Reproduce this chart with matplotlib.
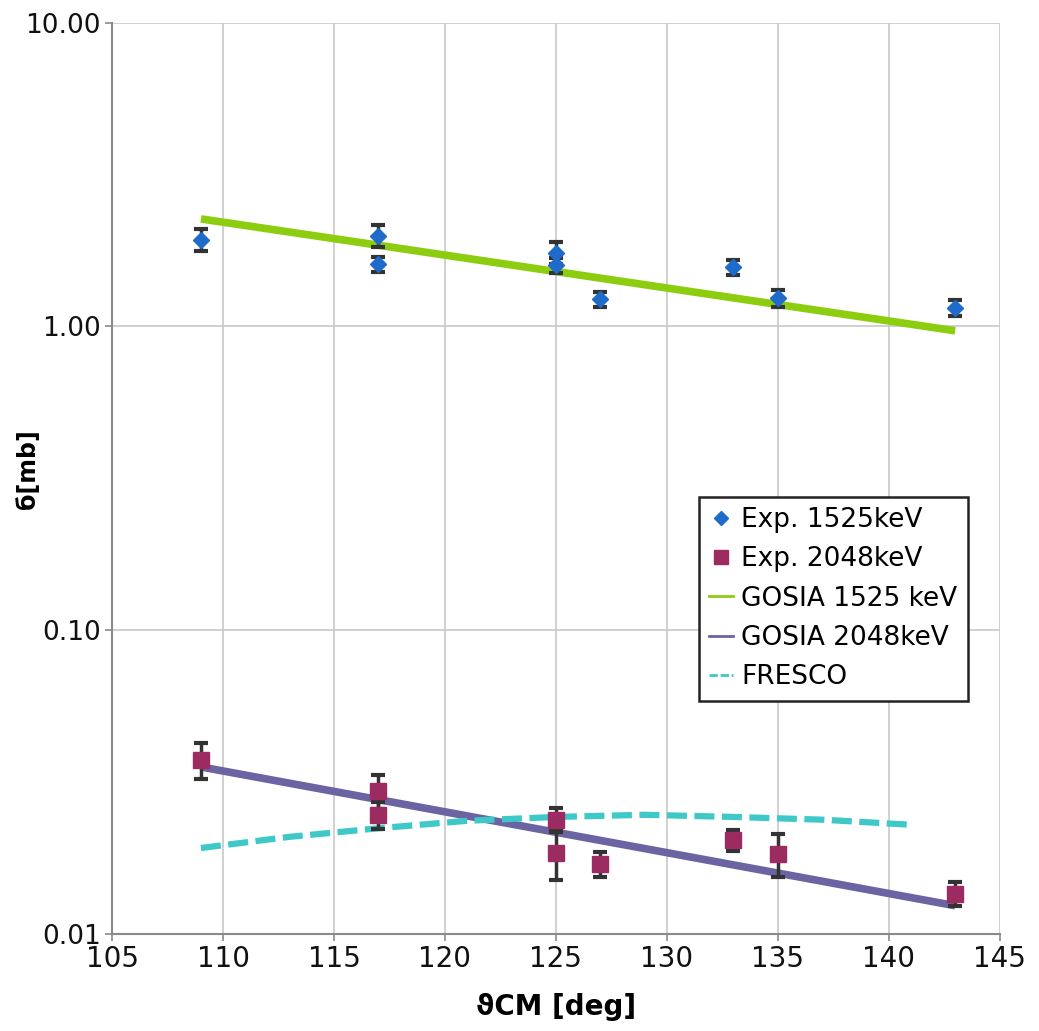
import numpy as np
import matplotlib
matplotlib.use('Agg')
import matplotlib.pyplot as plt
from matplotlib.lines import Line2D
from matplotlib.ticker import FixedLocator, FixedFormatter, NullLocator

# Exp. 1525 keV
theta_1525 = [109, 117, 117, 125, 125, 127, 133, 135, 143]
sig_1525 = [1.93, 1.99, 1.60, 1.75, 1.59, 1.23, 1.57, 1.24, 1.15]
err_1525 = [0.16, 0.17, 0.09, 0.14, 0.09, 0.07, 0.09, 0.08, 0.07]

# Exp. 2048 keV
theta_2048 = [109, 117, 117, 125, 125, 127, 133, 135, 143]
sig_2048 = [0.0374, 0.0296, 0.0247, 0.0238, 0.0185, 0.0170, 0.0204, 0.0184, 0.0136]
err_2048 = [0.0050, 0.0038, 0.0025, 0.0022, 0.0034, 0.0016, 0.0016, 0.0030, 0.0012]

# GOSIA calculations
theta_gosia = [109, 143]
gosia_1525 = [2.26, 0.968]
gosia_2048 = [0.0355, 0.0124]

# FRESCO calculation
theta_fresco = [109, 113, 117, 121, 125, 129, 133, 137, 141]
fresco = [0.0192, 0.0209, 0.0223, 0.0236, 0.0243, 0.0247, 0.0243, 0.0238, 0.0229]

C_EXP1 = '#1e6bc9'
C_EXP2 = '#9c2b62'
C_G1 = '#8ccd10'
C_G2 = '#6a64a2'
C_FR = '#3ec8c8'

fig = plt.figure(figsize=(10.39, 10.31), dpi=100)
ax = fig.add_axes([0.108, 0.094, 0.854, 0.884])

ax.plot(theta_gosia, gosia_1525, color=C_G1, lw=5.5, solid_capstyle='butt', zorder=2)
ax.plot(theta_gosia, gosia_2048, color=C_G2, lw=5.5, solid_capstyle='butt', zorder=2)
ax.plot(theta_fresco, fresco, color=C_FR, lw=4.5, dashes=(3.2, 1.2), zorder=2)

ax.errorbar(theta_1525, sig_1525, yerr=err_1525, fmt='D', ms=8, color=C_EXP1,
            mec=C_EXP1, ecolor='#333333', elinewidth=2.5, capsize=5, capthick=3, zorder=3)
ax.errorbar(theta_2048, sig_2048, yerr=err_2048, fmt='s', ms=11, color=C_EXP2,
            mec=C_EXP2, ecolor='#333333', elinewidth=2.5, capsize=5, capthick=3, zorder=3)

ax.set_yscale('log')
ax.set_xlim(105, 145)
ax.set_ylim(0.01, 10)
ax.xaxis.set_major_locator(FixedLocator(np.arange(105, 146, 5)))
ax.yaxis.set_major_locator(FixedLocator([0.01, 0.1, 1, 10]))
ax.yaxis.set_major_formatter(FixedFormatter(['0.01', '0.10', '1.00', '10.00']))
ax.yaxis.set_minor_locator(NullLocator())

ax.grid(True, color='#c8c8c8', lw=1.2)
ax.set_axisbelow(True)
for s in ['top', 'right']:
    ax.spines[s].set_visible(False)
for s in ['left', 'bottom']:
    ax.spines[s].set_color('#8a8a8a')
    ax.spines[s].set_linewidth(1.5)
ax.tick_params(axis='both', which='major', length=5, width=1.2, color='#8a8a8a',
               labelcolor='#111111', pad=3)
ax.tick_params(axis='y', labelsize=19)
ax.tick_params(axis='x', labelsize=20)

ax.set_xlabel('ϑCM [deg]', fontsize=20, fontweight='bold', labelpad=14)
ax.set_ylabel('б[mb]', fontsize=17, fontweight='bold')
ax.yaxis.set_label_coords(-0.081, 0.51)

handles = [
    Line2D([], [], ls='none', marker='D', ms=7, color=C_EXP1),
    Line2D([], [], ls='none', marker='s', ms=10, color=C_EXP2),
    Line2D([], [], color=C_G1, lw=2),
    Line2D([], [], color=C_G2, lw=2),
    Line2D([], [], color=C_FR, lw=2, dashes=(3, 1)),
]
labels = ['Exp. 1525keV', 'Exp. 2048keV', 'GOSIA 1525 keV', 'GOSIA 2048keV', 'FRESCO']
leg = ax.legend(handles, labels, loc='upper left', bbox_to_anchor=(0.661, 0.480),
                fontsize=19, frameon=True, fancybox=False, edgecolor='#222222',
                handlelength=0.9, handletextpad=0.3, borderpad=0.4, labelspacing=0.5,
                borderaxespad=0, framealpha=1)
leg.get_frame().set_linewidth(1.8)

fig.savefig('out.png', dpi=100, facecolor='white')
